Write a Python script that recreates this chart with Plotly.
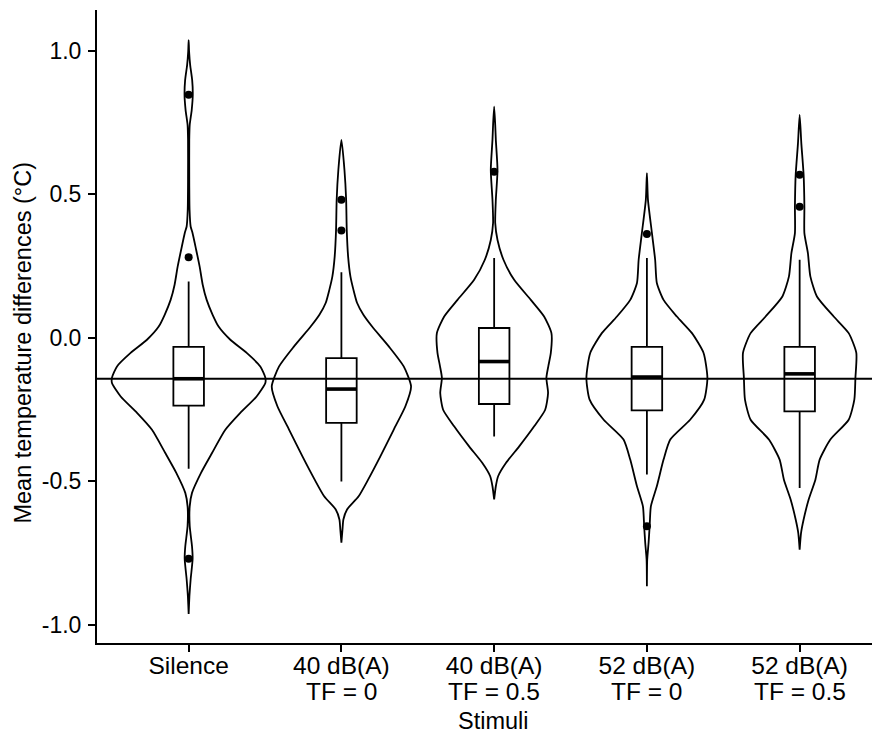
import plotly.graph_objects as go

# ---------------- data ----------------
category_line1 = ["Silence", "40 dB(A)", "40 dB(A)", "52 dB(A)", "52 dB(A)"]
category_line2 = ["", "TF = 0", "TF = 0.5", "TF = 0", "TF = 0.5"]
positions = [1, 2, 3, 4, 5]
x_title = "Stimuli"
y_title = "Mean temperature differences (°C)"

# box-plot statistics (°C)
q1 = [-0.237, -0.297, -0.231, -0.253, -0.257]
median = [-0.143, -0.179, -0.083, -0.137, -0.126]
q3 = [-0.032, -0.071, 0.034, -0.032, -0.032]
lower_whisker = [-0.457, -0.501, -0.344, -0.477, -0.524]
upper_whisker = [0.196, 0.228, 0.278, 0.278, 0.272]

# outliers per group
out_silence = [0.847, 0.281, -0.771]
out_40_0 = [0.481, 0.374]
out_40_05 = [0.579]
out_52_0 = [0.362, -0.657]
out_52_05 = [0.568, 0.457]
outliers = [out_silence, out_40_0, out_40_05, out_52_0, out_52_05]

# horizontal reference line (median of Silence)
reference_line = -0.143

# violin density profiles: y value and half-width (in category units)
sil_y = [1.038, 0.997, 0.951, 0.899, 0.847, 0.794, 0.742, 0.690, 0.551, 0.446,
         0.388, 0.366, 0.307, 0.248, 0.185, 0.132, 0.080, 0.039, -0.007, -0.053,
         -0.100, -0.139, -0.158, -0.205, -0.262, -0.321, -0.402, -0.471, -0.541,
         -0.588, -0.657, -0.727, -0.771, -0.843, -0.901, -0.963]
sil_w = [0.0, 0.003, 0.010, 0.023, 0.027, 0.020, 0.007, 0.004, 0.004, 0.006,
         0.013, 0.025, 0.049, 0.072, 0.092, 0.118, 0.157, 0.196, 0.273, 0.380,
         0.469, 0.502, 0.502, 0.445, 0.338, 0.240, 0.153, 0.081, 0.022,
         0.007, 0.007, 0.022, 0.026, 0.013, 0.005, 0.0]

d40_0_y = [0.690, 0.585, 0.481, 0.376, 0.283, 0.214, 0.167, 0.121, 0.080, 0.039,
           -0.030, -0.100, -0.170, -0.239, -0.321, -0.414, -0.495, -0.553,
           -0.599, -0.634, -0.669, -0.715]
d40_0_w = [0.0, 0.020, 0.031, 0.035, 0.044, 0.059, 0.079, 0.103, 0.144, 0.201,
           0.310, 0.408, 0.456, 0.419, 0.342, 0.255, 0.175, 0.113,
           0.037, 0.013, 0.007, 0.0]

d40_05_y = [0.806, 0.742, 0.690, 0.585, 0.481, 0.400, 0.341, 0.272, 0.202, 0.132,
            0.074, 0.016, -0.053, -0.098, -0.140, -0.193, -0.251, -0.309,
            -0.379, -0.437, -0.483, -0.518, -0.564]
d40_05_w = [0.0, 0.007, 0.011, 0.022, 0.011, 0.007, 0.022, 0.061, 0.131, 0.240,
            0.327, 0.375, 0.371, 0.355, 0.342, 0.353, 0.334, 0.262,
            0.164, 0.077, 0.026, 0.011, 0.0]

d52_0_y = [0.574, 0.481, 0.365, 0.272, 0.191, 0.132, 0.074, 0.016, -0.053, -0.140,
           -0.216, -0.286, -0.355, -0.425, -0.518, -0.588, -0.657, -0.715,
           -0.774, -0.867]
d52_0_w = [0.0, 0.007, 0.033, 0.054, 0.065, 0.109, 0.196, 0.295, 0.371, 0.396,
           0.375, 0.283, 0.153, 0.109, 0.065, 0.026, 0.018, 0.011,
           0.002, 0.0]

d52_05_y = [0.777, 0.678, 0.568, 0.457, 0.365, 0.295, 0.214, 0.144, 0.074, 0.016,
            -0.053, -0.140, -0.216, -0.286, -0.355, -0.425, -0.495, -0.564,
            -0.634, -0.681, -0.739]
d52_05_w = [0.0, 0.011, 0.026, 0.031, 0.031, 0.054, 0.070, 0.113, 0.223, 0.321,
            0.371, 0.365, 0.358, 0.321, 0.201, 0.131, 0.103, 0.059,
            0.026, 0.009, 0.0]

violin_profiles = [(sil_y, sil_w), (d40_0_y, d40_0_w), (d40_05_y, d40_05_w),
                   (d52_0_y, d52_0_w), (d52_05_y, d52_05_w)]

y_tickvals = [-1.0, -0.5, 0.0, 0.5, 1.0]
y_ticktext = ["-1.0", "-0.5", "0.0", "0.5", "1.0"]

# ---------------- figure ----------------
FONT = "Arial, Liberation Sans, sans-serif"
LW = 1.8
BOX_W = 0.2
TICK_SIZE = 24.5

fig = go.Figure()

# violins
for pos, (vy, vw) in zip(positions, violin_profiles):
    xs = [pos + w for w in vw] + [pos - w for w in reversed(vw)]
    ys = list(vy) + list(reversed(vy))
    fig.add_trace(go.Scatter(
        x=xs, y=ys, mode="lines",
        line=dict(color="black", width=LW, shape="spline", smoothing=0.6),
        hoverinfo="skip", showlegend=False))

# boxes
for i, pos in enumerate(positions):
    fig.add_trace(go.Box(
        x=[pos], q1=[q1[i]], median=[median[i]], q3=[q3[i]],
        lowerfence=[lower_whisker[i]], upperfence=[upper_whisker[i]],
        width=BOX_W, whiskerwidth=0, boxpoints=False,
        line=dict(color="black", width=LW), fillcolor="rgba(0,0,0,0)",
        showlegend=False))
    # thicker median line (ggplot fatten)
    fig.add_trace(go.Scatter(
        x=[pos - BOX_W / 2, pos + BOX_W / 2], y=[median[i], median[i]],
        mode="lines", line=dict(color="black", width=3.6),
        hoverinfo="skip", showlegend=False))

# outliers
for pos, pts in zip(positions, outliers):
    fig.add_trace(go.Scatter(
        x=[pos] * len(pts), y=pts, mode="markers",
        marker=dict(color="black", size=8),
        hoverinfo="skip", showlegend=False))

# reference line
fig.add_shape(type="line", xref="paper", x0=0, x1=1, yref="y",
              y0=reference_line, y1=reference_line,
              line=dict(color="black", width=LW), layer="above")

# second line of the category labels (tighter line spacing than <br>)
for pos, txt in zip(positions, category_line2):
    if txt:
        fig.add_annotation(text=txt, x=pos, xref="x", yref="paper", y=-0.0766,
                           xanchor="center", yanchor="middle", showarrow=False,
                           font=dict(family=FONT, size=TICK_SIZE, color="black"))

# axis titles
fig.add_annotation(text=x_title, xref="paper", yref="paper", x=0.507, y=-0.123,
                   xanchor="center", yanchor="middle", showarrow=False,
                   font=dict(family=FONT, size=23.5, color="black"))
fig.add_annotation(text=y_title, xref="paper", yref="paper", x=-0.095, y=0.474,
                   xanchor="center", yanchor="middle", showarrow=False,
                   textangle=-90,
                   font=dict(family=FONT, size=23.5, color="black"))

fig.update_layout(
    width=872, height=726,
    margin=dict(l=89, r=0, t=2, b=90.5, pad=0, autoexpand=False),
    paper_bgcolor="white", plot_bgcolor="white",
    font=dict(family=FONT, size=24, color="black"),
    showlegend=False,
)
fig.update_xaxes(
    range=[0.4, 5.526], tickmode="array", tickvals=positions,
    ticktext=category_line1,
    showgrid=False, zeroline=False, showline=True, linecolor="black", linewidth=2,
    ticks="outside", ticklen=7, tickwidth=2, tickcolor="black",
    tickfont=dict(family=FONT, size=TICK_SIZE, color="black"),
    ticklabelstandoff=-7,
    automargin=False,
)
fig.update_yaxes(
    range=[-1.0645, 1.1429], tickmode="array", tickvals=y_tickvals,
    ticktext=y_ticktext,
    showgrid=False, zeroline=False, showline=True, linecolor="black", linewidth=2,
    ticks="outside", ticklen=7, tickwidth=2, tickcolor="black",
    tickfont=dict(family=FONT, size=23, color="black"),
    ticklabelstandoff=2,
    automargin=False,
)

fig.write_html("out.html")
